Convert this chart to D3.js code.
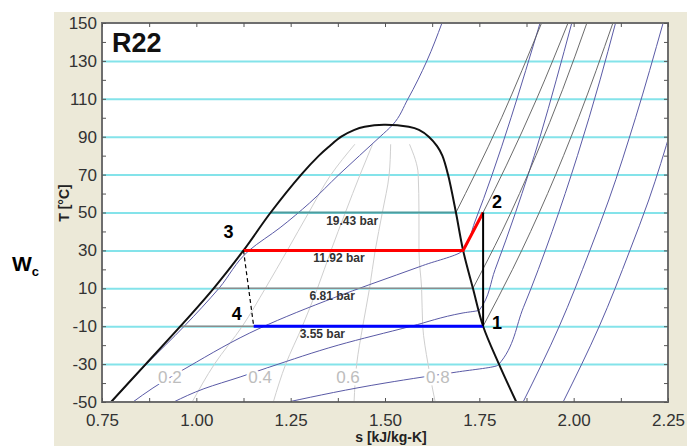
<!DOCTYPE html>
<html>
<head>
<meta charset="utf-8">
<script src="https://cdn.jsdelivr.net/npm/d3@7"></script>
<style>
body { margin:0; background:#fff; }
svg text { font-family: Arial, "Liberation Sans", sans-serif; }
</style>
</head>
<body>
<div id="chart"></div>
<script>
// axis ticks
var xTicks = [0.75, 1.00, 1.25, 1.50, 1.75, 2.00, 2.25];
var yTicks = [-50, -30, -10, 10, 30, 50, 70, 90, 110, 130, 150];
var gridT = [-30, -10, 10, 30, 50, 70, 90, 110, 130];

// saturation dome
var satT = [-50, -30, -10, 10, 30, 50, 70, 80, 85, 90, 93.6, 95.2];
var sLiq = [0.774, 0.866, 0.958, 1.046, 1.125, 1.197, 1.278, 1.325, 1.353, 1.384, 1.419, 1.446];
var sVap = [1.848, 1.802, 1.760, 1.733, 1.707, 1.688, 1.667, 1.652, 1.638, 1.616, 1.590, 1.563];
var critPoint = [1.497, 96.3];

// lines of constant quality
var qualT = [-50, -30, -10, 10, 30, 50, 70, 86];
var qual02 = [0.989, 1.048, 1.122, 1.183, 1.241, 1.298, 1.357, 1.420];
var qual04 = [1.204, 1.237, 1.281, 1.321, 1.357, 1.395, 1.434, 1.467];
var qual06 = [1.418, 1.425, 1.441, 1.459, 1.474, 1.493, 1.511, 1.515];
var qual08 = [1.633, 1.614, 1.600, 1.597, 1.590, 1.590, 1.588, 1.565];
var qualNames = ["0.2", "0.4", "0.6", "0.8"];
var qualLabelS = [0.930, 1.169, 1.402, 1.640];
var qualLabelT = -37;

// isochores [s, T]
var isoV1 = [[0.775,-50],[0.868,-30],[0.968,-10],[1.060,10],[1.140,30],[1.222,42],[1.300,55],[1.378,70],[1.487,90],[1.520,96.2],[1.561,110],[1.611,130],[1.651,150]];
var isoV2 = [[0.832,-50],[0.885,-42.6],[0.978,-31.5],[1.169,-11],[1.370,5.4],[1.460,12],[1.600,22],[1.707,30],[1.738,45],[1.784,70],[1.834,100],[1.873,125],[1.911,150]];
var isoV3 = [[0.940,-50],[1.020,-43],[1.116,-36.8],[1.195,-31.5],[1.376,-20],[1.570,-10],[1.707,-3],[1.750,-1.5],[1.792,20],[1.846,50],[1.911,90],[1.954,120],[1.995,150]];
var isoV4 = [[1.243,-50],[1.500,-40],[1.601,-36.8],[1.690,-34.2],[1.800,-30.5],[1.867,0],[1.943,40],[2.010,80],[2.070,120],[2.111,150]];
var isoV5 = [[1.866,-50],[1.962,-10],[2.043,30],[2.093,56.6],[2.164,100],[2.237,150]];
var isoV6 = [[1.972,-50],[2.068,-10],[2.149,30],[2.199,56.6],[2.260,95]];

// isobars in the superheated region [s, T]
var bar1943 = [[1.688,50],[1.738,70],[1.809,100],[1.863,125],[1.915,150]];
var bar1192 = [[1.707,30],[1.760,50],[1.822,75],[1.902,110],[1.985,150]];
var bar681 = [[1.733,10],[1.810,40],[1.900,80],[1.971,115],[2.035,150]];
var bar355 = [[1.760,-10],[1.838,20],[1.931,60],[2.013,100],[2.104,150]];

// isobars across the dome
var pressNames = ["19.43 bar", "11.92 bar", "6.81 bar", "3.55 bar"];
var pressT = [50, 30, 10, -10];
var pressLabelS = [1.413, 1.378, 1.360, 1.334];

// cycle states 1..4
var stateNames = ["1", "2", "3", "4"];
var stateS = [1.760, 1.760, 1.125, 1.152];
var stateT = [-10, 50, 30, -10];

var W = 687, H = 446;
var pL = 102, pR = 668, pT = 23, pB = 402;   // plot box

var svg = d3.select("#chart").append("svg")
    .attr("width", W)
    .attr("height", H);

// beige panel + white plot area
svg.append("rect").attr("x", 54).attr("y", 12).attr("width", W - 54).attr("height", H - 12).attr("fill", "#ece9d8");
svg.append("rect").attr("x", pL).attr("y", pT).attr("width", pR - pL).attr("height", pB - pT).attr("fill", "#fff");

var x = d3.scaleLinear().domain([0.75, 2.25]).range([pL, pR]);
var y = d3.scaleLinear().domain([-50, 150]).range([pB, pT]);

svg.append("clipPath").attr("id", "plotclip")
  .append("rect").attr("x", pL).attr("y", pT).attr("width", pR - pL).attr("height", pB - pT);

// cyan grid
var grid = svg.append("g")
    .attr("transform", "translate(" + pL + ",0)")
    .call(d3.axisLeft(y).tickValues(gridT).tickSize(-(pR - pL)).tickFormat(""));
grid.select(".domain").remove();
grid.selectAll("line").attr("stroke", "#84e3ea").attr("stroke-width", 2);

var plot = svg.append("g").attr("clip-path", "url(#plotclip)");

// lines that climb with T: x as a monotone function of y, no loops
var smooth = d3.line()
    .x(function(d) { return x(d[0]); })
    .y(function(d) { return y(d[1]); })
    .curve(d3.curveMonotoneY);
function byT(pts) {
  return pts.slice().sort(function(a, b) { return b[1] - a[1]; });
}

// quality lines
[qual02, qual04, qual06, qual08].forEach(function(q) {
  var pts = qualT.map(function(t, i) { return [q[i], t]; });
  plot.append("path").attr("d", smooth(byT(pts)))
      .attr("fill", "none").attr("stroke", "#cfcfcf").attr("stroke-width", 1);
});

// isochores
[isoV1, isoV2, isoV3, isoV4, isoV5, isoV6].forEach(function(v) {
  plot.append("path").attr("d", smooth(byT(v)))
      .attr("fill", "none").attr("stroke", "#5a5aa6").attr("stroke-width", 1);
});

// superheated isobars
[bar1943, bar1192, bar681, bar355].forEach(function(p) {
  plot.append("path").attr("d", smooth(byT(p)))
      .attr("fill", "none").attr("stroke", "#5a5a5a").attr("stroke-width", 0.9);
});

// isobars inside the dome
pressT.forEach(function(t, i) {
  var k = satT.indexOf(t);
  plot.append("line")
      .attr("x1", x(sLiq[k])).attr("x2", x(sVap[k]))
      .attr("y1", y(t)).attr("y2", y(t))
      .attr("stroke", i == 0 ? "#4e9c9e" : "#8c8c8c")
      .attr("stroke-width", i == 0 ? 2 : 1.5);
  plot.append("text")
      .attr("x", x(pressLabelS[i])).attr("y", y(t) + 12)
      .attr("text-anchor", "middle")
      .attr("font-size", 12).attr("font-weight", "bold")
      .attr("fill", "#333")
      .text(pressNames[i]);
});

// quality labels, white halo breaks the lines behind them
qualNames.forEach(function(n, i) {
  plot.append("text")
      .attr("x", x(qualLabelS[i])).attr("y", y(qualLabelT) + 6)
      .attr("text-anchor", "middle")
      .attr("font-size", 17)
      .attr("fill", "#bdbdbd")
      .attr("stroke", "#fff").attr("stroke-width", 5).attr("paint-order", "stroke")
      .text(n);
});

// saturation dome
var domeLine = d3.line()
    .x(function(d) { return x(d[0]); })
    .y(function(d) { return y(d[1]); })
    .curve(d3.curveCatmullRom.alpha(0.5));
var dome = [];
satT.forEach(function(t, i) { dome.push([sLiq[i], t]); });
dome.push(critPoint);
for (var i = satT.length - 1; i >= 0; i--) dome.push([sVap[i], satT[i]]);
plot.append("path").attr("d", domeLine(dome))
    .attr("fill", "none").attr("stroke", "#111").attr("stroke-width", 2);

// cycle
var lin = d3.line().x(function(d) { return x(d[0]); }).y(function(d) { return y(d[1]); });
var p1 = [stateS[0], stateT[0]], p2 = [stateS[1], stateT[1]], p3 = [stateS[2], stateT[2]], p4 = [stateS[3], stateT[3]];
var k30 = satT.indexOf(30);

plot.append("path").attr("d", lin([p4, p1]))
    .attr("fill", "none").attr("stroke", "#0000ff").attr("stroke-width", 3);
plot.append("path").attr("d", lin([p2, [sVap[k30], 30], p3]))
    .attr("fill", "none").attr("stroke", "#ff0000").attr("stroke-width", 3);
plot.append("path").attr("d", lin([p1, p2]))
    .attr("fill", "none").attr("stroke", "#000").attr("stroke-width", 2);
plot.append("path").attr("d", lin([p3, p4]))
    .attr("fill", "none").attr("stroke", "#000").attr("stroke-width", 1.2)
    .attr("stroke-dasharray", "4,3");

var stateDx = [14, 14, -15, -17];
var stateDy = [3, -5, -12, -6];
stateNames.forEach(function(n, i) {
  svg.append("text")
      .attr("x", x(stateS[i]) + stateDx[i]).attr("y", y(stateT[i]) + stateDy[i])
      .attr("text-anchor", "middle")
      .attr("font-size", 18).attr("font-weight", "bold")
      .attr("fill", "#000")
      .text(n);
});

// plot frame
svg.append("rect").attr("x", pL).attr("y", pT).attr("width", pR - pL).attr("height", pB - pT)
    .attr("fill", "none").attr("stroke", "#6e6e6e").attr("stroke-width", 2);

// axes
var minorS = d3.range(0.75, 2.2501, 0.125);
var minorT = d3.range(-50, 150.1, 10);

function styleAxis(g) {
  g.select(".domain").remove();
  g.selectAll("line").attr("stroke", "#555");
  g.selectAll("text").attr("font-size", 17).attr("fill", "#333")
   .attr("font-family", "Arial, 'Liberation Sans', sans-serif");
}

svg.append("g").attr("transform", "translate(0," + pB + ")")
   .call(d3.axisBottom(x).tickValues(minorS).tickSize(-4).tickFormat("")).call(styleAxis);
svg.append("g").attr("transform", "translate(0," + pT + ")")
   .call(d3.axisTop(x).tickValues(minorS).tickSize(-4).tickFormat("")).call(styleAxis);
svg.append("g").attr("transform", "translate(" + pL + ",0)")
   .call(d3.axisLeft(y).tickValues(minorT).tickSize(-4).tickFormat("")).call(styleAxis);
svg.append("g").attr("transform", "translate(" + pR + ",0)")
   .call(d3.axisRight(y).tickValues(minorT).tickSize(-4).tickFormat("")).call(styleAxis);

svg.append("g").attr("transform", "translate(0," + pB + ")")
   .call(d3.axisBottom(x).tickValues(xTicks).tickSize(0).tickPadding(12).tickFormat(d3.format(".2f")))
   .call(styleAxis);
svg.append("g").attr("transform", "translate(" + pL + ",0)")
   .call(d3.axisLeft(y).tickValues(yTicks).tickSize(0).tickPadding(5).tickFormat(function(d) { return String(d); }))
   .call(styleAxis);

// titles
svg.append("text").attr("x", 112).attr("y", 52)
   .attr("font-size", 27).attr("font-weight", "bold").attr("fill", "#111").text("R22");

svg.append("text")
   .attr("transform", "translate(69," + y(55) + ") rotate(-90)")
   .attr("text-anchor", "middle")
   .attr("font-size", 14).attr("font-weight", "bold").attr("fill", "#222")
   .text("T [°C]");

svg.append("text").attr("x", 391).attr("y", 442)
   .attr("text-anchor", "middle")
   .attr("font-size", 14).attr("font-weight", "bold").attr("fill", "#222")
   .text("s [kJ/kg-K]");

var wc = svg.append("text").attr("x", 12).attr("y", 271)
   .attr("font-weight", "bold").attr("fill", "#000");
wc.append("tspan").attr("font-size", 21).text("W");
wc.append("tspan").attr("font-size", 13).attr("dy", 5).text("c");
</script>
</body>
</html>
